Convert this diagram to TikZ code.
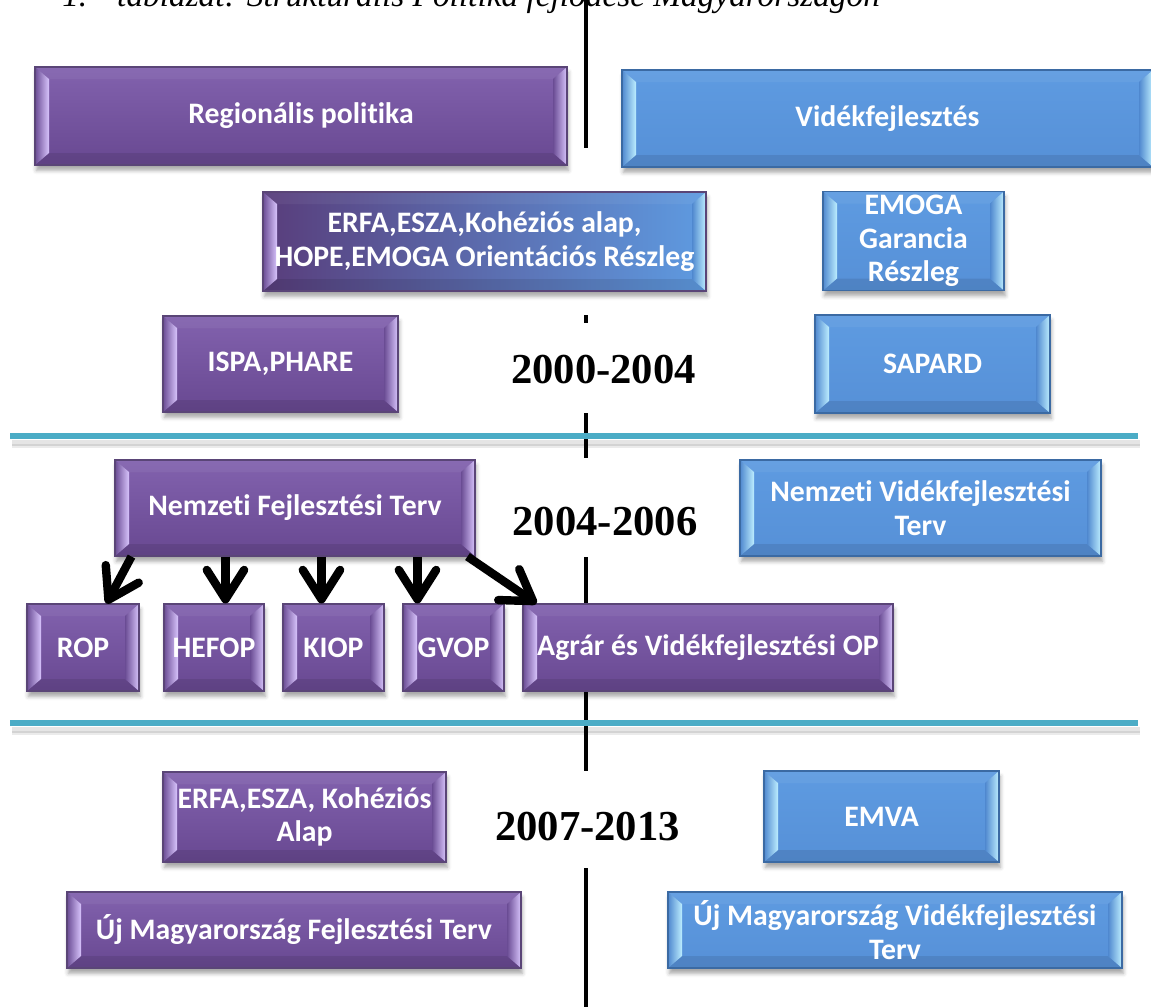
\documentclass[tikz,border=0pt]{standalone}
\usepackage{fontspec}
\setmainfont{Liberation Serif}
\newfontfamily\boxfont{Carlito}[Ligatures=NoCommon]
\usetikzlibrary{arrows.meta,shadows.blur}

\definecolor{pfacetop}{HTML}{8262AE}
\definecolor{pfacebot}{HTML}{684891}
\definecolor{pdark}{HTML}{6A4C94}
\definecolor{plight}{HTML}{D8C4FC}
\definecolor{pedge}{HTML}{5A4577}
\definecolor{bfacetop}{HTML}{5E9BE1}
\definecolor{bfacebot}{HTML}{5690D7}
\definecolor{bdark}{HTML}{4F88CF}
\definecolor{blight}{HTML}{BDEEFF}
\definecolor{bedge}{HTML}{3B6AA3}
\definecolor{tealline}{HTML}{4BACC6}

\tikzset{
  bev/.style n args={4}{path picture={
      \coordinate (bnw) at (path picture bounding box.north west);
      \coordinate (bne) at (path picture bounding box.north east);
      \coordinate (bsw) at (path picture bounding box.south west);
      \coordinate (bse) at (path picture bounding box.south east);
      \fill[white, opacity=0.05] (bnw) -- (bne) -- ([shift={(-14,12)}]bne) -- ([shift={(14,12)}]bnw) -- cycle;
      \fill[black, opacity=0.09] (bsw) -- (bse) -- ([shift={(-14,-12)}]bse) -- ([shift={(14,-12)}]bsw) -- cycle;
      \shade[left color=#1, right color=#2] (bnw) -- ([shift={(14,12)}]bnw) -- ([shift={(14,-12)}]bsw) -- (bsw) -- cycle;
      \shade[left color=#3, right color=#4] (bne) -- ([shift={(-14,12)}]bne) -- ([shift={(-14,-12)}]bse) -- (bse) -- cycle;
  }},
  boxbase/.style={line width=0.8pt, text=white, align=center, inner sep=0pt,
      font=\boxfont\bfseries\fontsize{22.3}{25}\selectfont,
      blur shadow={shadow xshift=1pt, shadow yshift=-4pt, shadow blur radius=3pt, shadow opacity=35}},
  pbox/.style={boxbase, draw=pedge, top color=pfacetop, bottom color=pfacebot,
      bev={pdark}{plight}{pdark}{plight}},
  bbox/.style={boxbase, draw=bedge, top color=bfacetop, bottom color=bfacebot,
      bev={bdark}{blight}{bdark}{blight}},
  gbox/.style={boxbase, draw=pedge, left color=pfacebot!85!black, right color=bfacetop,
      bev={pdark}{plight}{bdark}{blight}},
  year/.style={font=\bfseries\fontsize{32}{32}\selectfont, anchor=base, inner sep=0pt},
  vline/.style={line width=3pt, black},
  arr/.style={line width=6.3pt, -{Straight Barb[length=22pt, width=28pt, round]}},
}

\begin{document}
\begin{tikzpicture}[x=0.75pt, y=-0.75pt]
\useasboundingbox (0,0) rectangle (1151,1007);

% title (cut off at top, as in the source)
\node[anchor=base west, inner sep=0pt, font=\itshape\fontsize{25}{25}\selectfont] (title) at (62,6)
  {1.\hspace{0.9em}táblázat: Strukturális Politika fejlődése Magyarországon};

% vertical axis
\draw[vline] (586,0) -- (586,148);
\draw[vline] (586,315) -- (586,323);
\draw[vline] (586,413) -- (586,458);
\draw[vline] (586,557) -- (586,771);
\draw[vline] (586,868) -- (586,1007);

% separators
\foreach \yy in {436,723}{
  \draw[line width=4pt, black, opacity=0.10] (12,\yy+7) -- (1140,\yy+7);
  \draw[line width=3pt, black, opacity=0.08] (12,\yy+10) -- (1140,\yy+10);
  \draw[line width=3.8pt, tealline] (10,\yy) -- (1138,\yy);
}

% boxes
\node[pbox, minimum width=532*0.75pt, minimum height=98*0.75pt] (reg) at (301,116) {Regionális politika};
\node[bbox, minimum width=531*0.75pt, minimum height=97*0.75pt] (vid) at (887.5,118.5) {Vidékfejlesztés};
\node[gbox, minimum width=443*0.75pt, minimum height=99*0.75pt] (erfa) at (484.5,241.5) {ERFA,ESZA,Kohéziós alap,\\HOPE,EMOGA Orientációs Részleg};
\node[bbox, minimum width=181*0.75pt, minimum height=99*0.75pt] (emoga) at (913.5,241) {EMOGA\\Garancia\\Részleg};
\node[pbox, minimum width=235*0.75pt, minimum height=96*0.75pt] (ispa) at (280.5,364) {ISPA,PHARE};
\node[bbox, minimum width=235*0.75pt, minimum height=98*0.75pt] (sapard) at (932.5,364) {SAPARD};

\node[pbox, minimum width=360*0.75pt, minimum height=96*0.75pt] (nft) at (295,508) {Nemzeti Fejlesztési Terv};
\node[bbox, minimum width=361*0.75pt, minimum height=96*0.75pt] (nvt) at (920.5,508) {Nemzeti Vidékfejlesztési\\Terv};

\node[pbox, minimum width=112*0.75pt, minimum height=87*0.75pt] (rop) at (83,647.5) {ROP};
\node[pbox, minimum width=100*0.75pt, minimum height=87*0.75pt] (hefop) at (214,647.5) {HEFOP};
\node[pbox, minimum width=101*0.75pt, minimum height=87*0.75pt] (kiop) at (333.5,647.5) {KIOP};
\node[pbox, minimum width=101*0.75pt, minimum height=87*0.75pt] (gvop) at (453.5,647.5) {GVOP};
\node[pbox, minimum width=370*0.75pt, minimum height=87*0.75pt] (agrar) at (708,647.5) {Agrár és Vidékfejlesztési OP};

\node[pbox, minimum width=283*0.75pt, minimum height=90*0.75pt] (erfa2) at (304.5,817) {ERFA,ESZA, Kohéziós\\Alap};
\node[bbox, minimum width=235*0.75pt, minimum height=91*0.75pt] (emva) at (881.5,816.5) {EMVA};
\node[pbox, minimum width=454*0.75pt, minimum height=76*0.75pt] (umft) at (294,930) {Új Magyarország Fejlesztési Terv};
\node[bbox, minimum width=454*0.75pt, minimum height=76*0.75pt] (umvt) at (895,930) {Új Magyarország Vidékfejlesztési\\Terv};

% years
\node[year] (y1) at (603.5,383) {2000-2004};
\node[year] (y2) at (605,535) {2004-2006};
\node[year] (y3) at (587.5,840) {2007-2013};

% arrows
\draw[arr] ([shift={(17,0)}]nft.south west) -- ([shift={(80,0)}]rop.north west);
\draw[arr] ([shift={(111,0)}]nft.south west) -- ([shift={(62,0)}]hefop.north west);
\draw[arr] ([shift={(207,0)}]nft.south west) -- ([shift={(39,0)}]kiop.north west);
\draw[arr] ([shift={(303,0)}]nft.south west) -- ([shift={(15,0)}]gvop.north west);
\draw[arr] ([shift={(353,0)}]nft.south west) -- ([shift={(14,0)}]agrar.north west);
\end{tikzpicture}
\end{document}
